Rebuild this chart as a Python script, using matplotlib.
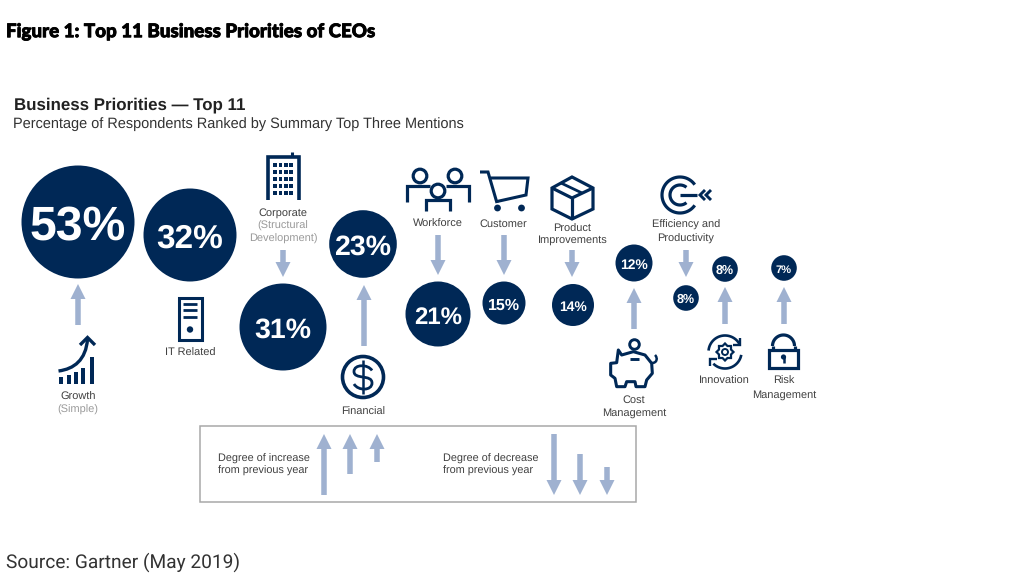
import numpy as np
import matplotlib
matplotlib.use("Agg")
import matplotlib.pyplot as plt
import matplotlib.patheffects as pe
from matplotlib.patches import Circle, Rectangle, Polygon, PathPatch
from matplotlib.path import Path

plt.rcParams["text.hinting"] = "none"

# ---- data ----
percent_values = [53, 32, 31, 23, 21, 15, 14, 12, 8, 8, 7]
directions = ["up", "none", "down", "up", "down", "down", "down", "up", "down", "up", "up"]

# ---- layout (pixel coordinates of the picture) ----
bubble_x = [78, 190, 283, 363, 438, 504, 573, 634, 686, 725, 784]
bubble_y = [222, 235, 327, 244, 314, 303, 305, 263, 298, 269, 268]
bubble_r = [56.5, 46.5, 43.5, 33.8, 32.5, 21.5, 21, 18.5, 12.8, 12.8, 12.8]
bubble_fs = [34.7, 24, 20.5, 20.5, 17.3, 11.5, 10, 10, 9, 9, 8]
arrow_x = [78, None, 283, 364, 438, 504, 572, 634, 686, 725, 784]
arrow_tail = [325, None, 250, 346, 235, 235, 250, 329, 250, 324, 324]
arrow_tip = [284, None, 277, 285, 275, 275, 277, 288, 277, 287, 287]

NAVY = "#002856"
ARROW = "#9FB1D0"
DARK = "#404040"
GREY = "#9A9A9A"

fig = plt.figure(figsize=(10.13, 5.77), dpi=100, facecolor="white")
ax = fig.add_axes([0, 0, 1, 1])
ax.set_xlim(0, 1013)
ax.set_ylim(577, 0)
ax.axis("off")

SANS = "Liberation Sans"


def label(x, y, s, color=DARK, fs=7.9, ha="center", **kw):
    ax.text(x, y + 0.8, s, color=color, fontsize=fs, ha=ha, va="center", family=SANS, **kw)


def block_arrow(x, tail, tip, shaft=5.5, head_w=15, head_l=15):
    s = 1 if tip > tail else -1
    neck = tip - s * head_l
    pts = [(x - shaft / 2, tail), (x + shaft / 2, tail), (x + shaft / 2, neck),
           (x + head_w / 2, neck), (x, tip), (x - head_w / 2, neck), (x - shaft / 2, neck)]
    ax.add_patch(Polygon(pts, closed=True, fc=ARROW, ec="none"))


def line(pts, lw=1.9, color=NAVY, **kw):
    xs, ys = zip(*pts)
    ax.plot(xs, ys, color=color, lw=lw, solid_capstyle="butt", solid_joinstyle="miter", **kw)


def arc(cx, cy, r, a0, a1, lw=1.9):
    t = np.radians(np.linspace(a0, a1, 60))
    ax.plot(cx + r * np.cos(t), cy - r * np.sin(t), color=NAVY, lw=lw, solid_capstyle="butt")


def ring(cx, cy, r, lw=1.9, fc="none"):
    ax.add_patch(Circle((cx, cy), r, fc=fc, ec=NAVY, lw=lw))


def dot(cx, cy, r):
    ax.add_patch(Circle((cx, cy), r, fc=NAVY, ec="none"))


def curve(verts, lw=1.9):
    codes = [Path.MOVETO] + [Path.CURVE4] * (len(verts) - 1)
    ax.add_patch(PathPatch(Path(verts, codes), fc="none", ec=NAVY, lw=lw, capstyle="butt"))


# ---- headings ----
ax.text(6, 31.8, "Figure 1: Top 11 Business Priorities of CEOs", fontsize=13.5, color="black",
        family="Lato", fontweight="black", ha="left", va="center",
        path_effects=[pe.withStroke(linewidth=0.6, foreground="black")])
label(14, 104, "Business Priorities \u2014 Top 11", color="#222222", fs=12.2, ha="left", fontweight="bold")
label(13, 123.5, "Percentage of Respondents Ranked by Summary Top Three Mentions", color="#333333",
      fs=10.45, ha="left")
ax.text(6, 562, "Source: Gartner (May 2019)", fontsize=13.8, color="#333333", family="Roboto",
        fontweight="regular", ha="left", va="center")

# ---- bubbles and arrows ----
for v, x, y, r, fs in zip(percent_values, bubble_x, bubble_y, bubble_r, bubble_fs):
    ax.add_patch(Circle((x, y), r, fc=NAVY, ec="none"))
    ax.text(x, y + 0.7 + 0.36 * fs * 100 / 72, f"{v}%", color="white", fontsize=fs, fontweight="bold",
            family=SANS, ha="center", va="baseline")

for d, x, tail, tip in zip(directions, arrow_x, arrow_tail, arrow_tip):
    if d != "none":
        block_arrow(x, tail, tip)

# ---- category labels ----
label(78, 396, "Growth")
label(78, 409, "(Simple)", GREY)
label(190, 352.5, "IT Related")
label(283, 212, "Corporate")
label(283, 225.5, "(Structural", GREY)
label(283, 238.5, "Development)", GREY)
label(363, 411, "Financial")
label(438, 223, "Workforce")
label(503.5, 223.5, "Customer")
label(572.5, 228.5, "Product")
label(572.5, 239.5, "Improvements")
label(686, 224.5, "Efficiency and")
label(686, 238, "Productivity")
label(634, 399, "Cost")
label(634, 412.5, "Management")
label(724.5, 380.5, "Innovation")
label(784, 380.5, "Risk")
label(784, 394, "Management")

# ---- icons ----
# growth
for bx, top in zip([61, 68.5, 75.5, 83, 92], [377, 375, 372, 368, 357]):
    ax.add_patch(Rectangle((bx - 2, top), 4, 383.5 - top, fc=NAVY, ec="none"))
curve([(58.5, 371), (74, 369), (86, 360), (87.5, 339)], lw=2.4)
line([(80, 345), (87.5, 337.5), (95, 345)], lw=2.4)

# server
ax.add_patch(Rectangle((178.5, 298), 23, 41.5, fc="none", ec=NAVY, lw=2.2))
for ly in (303.5, 310, 316.5):
    line([(183, ly), (197, ly)], lw=2.0)
dot(190, 329.5, 3.2)

# building
line([(267.5, 200), (267.5, 156.5), (299, 156.5), (299, 200)], lw=2.6)
line([(292, 152), (292, 156)], lw=2.2)
for wx in (275, 280.5, 286, 291):
    for wy in (165, 172, 179, 186, 193):
        ax.add_patch(Rectangle((wx - 1.6, wy - 1.6), 3.2, 3.2, fc=NAVY, ec="none"))

# dollar
ring(363, 377, 20.5, lw=2.6)
curve([(372, 370.5), (368, 364), (354, 364), (354, 371.5),
       (354, 380), (372, 374), (372, 383),
       (372, 391), (358, 391), (354, 384)], lw=2.0)
line([(363, 360), (363, 394)], lw=1.8)

# workforce
ring(420, 176, 6.8, lw=2.3)
ring(455, 176, 6.8, lw=2.3)
ring(438, 191, 6.8, lw=2.3)
line([(407, 202), (407, 186), (430, 186)], lw=2.3)
line([(468.5, 202), (468.5, 186), (446, 186)], lw=2.3)
line([(426, 211), (426, 199.5), (450, 199.5), (450, 211)], lw=2.3)

# cart
line([(480, 172), (488, 172), (497, 203)], lw=2.2)
line([(491, 178), (528, 178), (526, 195), (497, 201.5)], lw=2.2)
dot(497.5, 208, 3.4)
dot(521.5, 208, 3.4)

# box
ax.add_patch(Polygon([(572, 177), (593, 188), (593, 209), (572, 219), (552, 209), (552, 188)],
                     closed=True, fc="none", ec=NAVY, lw=2.3))
line([(552, 188), (572, 198), (593, 188)], lw=2.3)
line([(572, 198), (572, 219)], lw=2.3)
line([(561, 183), (582, 193)], lw=2.0)

# target
arc(680, 195, 18, 35, 325, lw=2.3)
arc(680, 195, 10, 50, 310, lw=2.3)
line([(680, 195), (697, 195)], lw=2.3)
line([(705, 190), (700, 195), (705, 200)], lw=2.1)
line([(711, 190), (706, 195), (711, 200)], lw=2.1)

# piggy bank
pig = [(655, 570), (665, 585), (700, 575), (735, 585), (755, 610), (757, 640), (740, 660),
       (735, 680), (708, 680), (705, 665), (680, 665), (675, 680), (650, 680), (645, 655),
       (632, 645), (632, 610), (650, 608)]
ax.add_patch(Polygon([(400 + px / 3, 160 + py / 3) for px, py in pig], closed=True, fc="none",
                     ec=NAVY, lw=2.2, joinstyle="round"))
ring(634.5, 344.5, 4.8, lw=2.1)
line([(630, 359), (639, 359)], lw=2.1)
curve([(652, 363), (657, 363), (658, 358), (655, 355)], lw=1.8)

# innovation
teeth = np.radians(np.arange(0, 360, 22.5))
gear_r = np.where(np.arange(16) % 2 == 0, 8.5, 6.5)
ax.add_patch(Polygon(np.column_stack([725 + gear_r * np.cos(teeth), 352 + gear_r * np.sin(teeth)]),
                     closed=True, fc="none", ec=NAVY, lw=1.6))
ring(725, 352, 3, lw=1.4)
arc(725, 352, 16.5, 30, 175, lw=1.9)
arc(725, 352, 16.5, -135, -10, lw=1.9)
line([(733, 345), (740, 345), (740, 338)], lw=1.7)
line([(717, 359), (710, 359), (710, 366)], lw=1.7)

# lock
ax.add_patch(Rectangle((769, 350), 29, 18, fc="none", ec=NAVY, lw=2.3))
arc(783.5, 346, 11, 0, 180, lw=2.3)
line([(772.5, 346), (772.5, 350)], lw=2.3)
line([(794.5, 346), (794.5, 350)], lw=2.3)
dot(783.5, 357, 2.6)
line([(783.5, 357), (783.5, 362.5)], lw=1.8)

# ---- key ----
ax.add_patch(Rectangle((200, 426), 436, 76, fc="none", ec="#A8A8A8", lw=1.1))
label(218.5, 458, "Degree of increase", ha="left", fs=7.8)
label(218.5, 470, "from previous year", ha="left", fs=7.8)
label(443, 458, "Degree of decrease", ha="left", fs=7.8)
label(443, 470, "from previous year", ha="left", fs=7.8)
for kx, ktail, ktip in [(324, 495, 434), (350, 474, 434), (377, 462, 434),
                        (554, 434, 495), (580, 454, 495), (607, 467, 495)]:
    block_arrow(kx, ktail, ktip)

fig.savefig("out.png", dpi=100, facecolor="white")
